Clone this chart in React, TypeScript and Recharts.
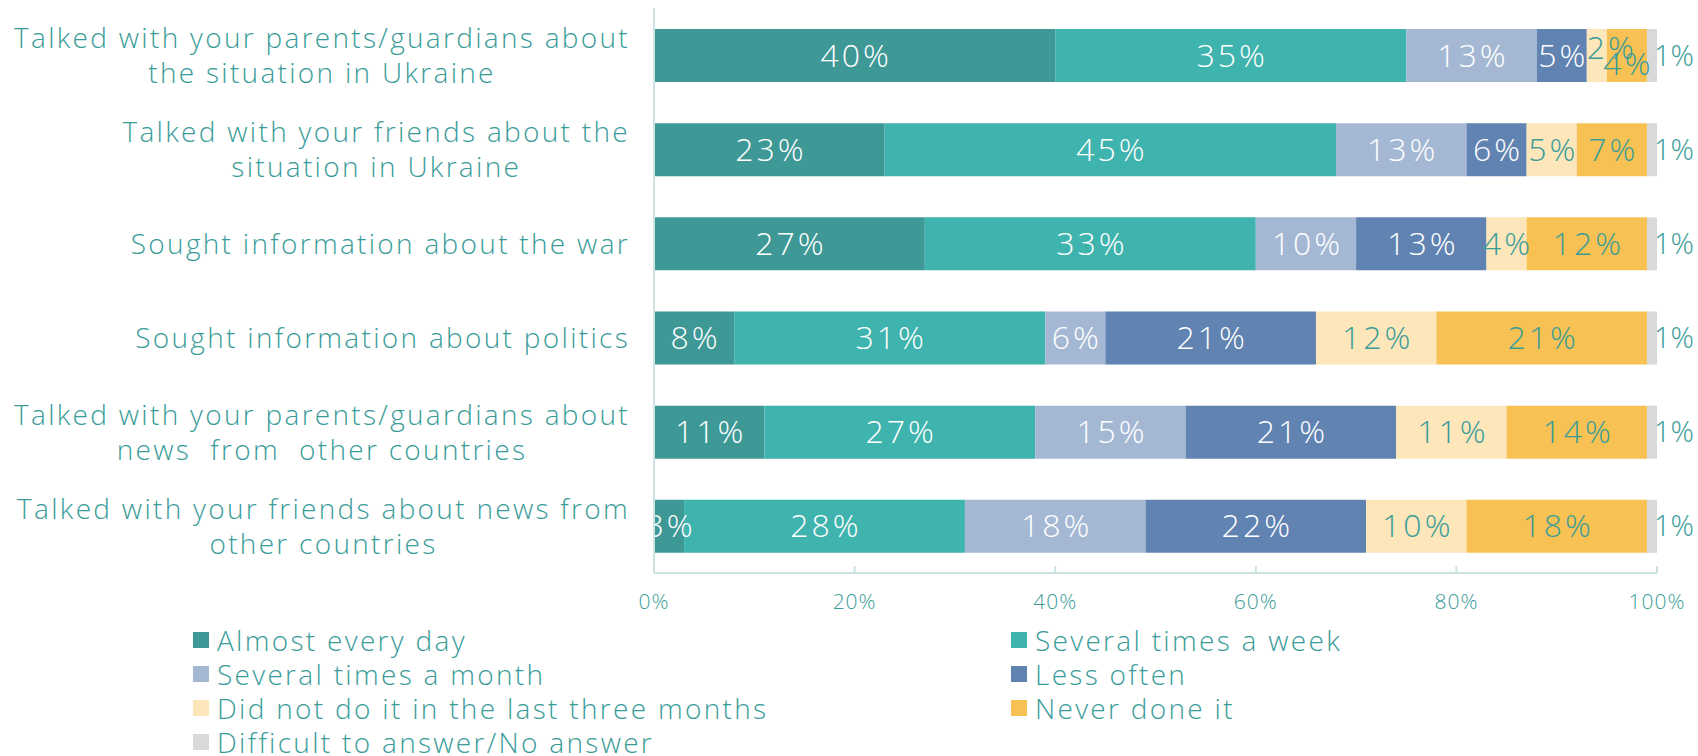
import React from 'react';
import { BarChart, Bar, XAxis, YAxis, LabelList } from 'recharts';

// Row labels, top to bottom ("\n" marks the line break)
const categories = [
  'Talked with your parents/guardians about\nthe situation in Ukraine',
  'Talked with your friends about the\nsituation in Ukraine',
  'Sought information about the war',
  'Sought information about politics',
  'Talked with your parents/guardians about\nnews  from  other countries',
  'Talked with your friends about news from\nother countries',
];

// Shares in %, one value per row
const almostEveryDay = [40, 23, 27, 8, 11, 3];
const severalWeek = [35, 45, 33, 31, 27, 28];
const severalMonth = [13, 13, 10, 6, 15, 18];
const lessOften = [5, 6, 13, 21, 21, 22];
const notLastThree = [2, 5, 4, 12, 11, 10];
const neverDone = [4, 7, 12, 21, 14, 18];
const noAnswer = [1, 1, 1, 1, 1, 1];

const xTicks = [0, 20, 40, 60, 80, 100];

const TEAL_TEXT = '#3a9c99';
const AXIS = '#cde3e2';
const FONT = "'Open Sans', sans-serif";

const series = [
  { key: 'almostEveryDay', name: 'Almost every day', values: almostEveryDay, color: '#3d9896', text: '#ffffff' },
  { key: 'severalWeek', name: 'Several times a week', values: severalWeek, color: '#3fb3ad', text: '#ffffff' },
  { key: 'severalMonth', name: 'Several times a month', values: severalMonth, color: '#a4b8d4', text: '#ffffff' },
  { key: 'lessOften', name: 'Less often', values: lessOften, color: '#6183b2', text: '#ffffff' },
  { key: 'notLastThree', name: 'Did not do it in the last three months', values: notLastThree, color: '#fde6ba', text: TEAL_TEXT },
  { key: 'neverDone', name: 'Never done it', values: neverDone, color: '#f7c253', text: TEAL_TEXT },
  { key: 'noAnswer', name: 'Difficult to answer/No answer', values: noAnswer, color: '#d9d9d9', text: TEAL_TEXT },
];

const data = categories.map((name, i) => {
  const row: Record<string, any> = { name };
  series.forEach((s) => { row[s.key] = s.values[i]; });
  return row;
});

const CategoryTick = (props: any) => {
  const { y, payload } = props;
  return (
    <foreignObject x={0} y={y - 50} width={628} height={100}>
      <div style={{ height: 100, display: 'flex', alignItems: 'center', justifyContent: 'flex-end' }}>
        <span style={{
          display: 'inline-block', textAlign: 'center', whiteSpace: 'pre',
          fontFamily: FONT, fontSize: 28, fontWeight: 300, lineHeight: '35px', color: TEAL_TEXT,
          letterSpacing: '2.3px', marginRight: -2,
        }}>
          {payload.value}
        </span>
      </div>
    </foreignObject>
  );
};

const PercentTick = (props: any) => {
  const { x, y, payload } = props;
  return (
    <g>
      <line x1={x} x2={x} y1={y - 7} y2={y} stroke={AXIS} strokeWidth={2} />
      <text x={x} y={y + 36} textAnchor="middle" fill={TEAL_TEXT} fontFamily={FONT} fontSize={21}
        fontWeight={300} letterSpacing={1}>
        {payload.value}%
      </text>
    </g>
  );
};

const makeLabel = (si: number) => (props: any) => {
  const { x, y, width, height, value, index } = props;
  const s = series[si];
  const cy = Number(y) + Number(height) / 2;
  const common = { fill: s.text, fontFamily: FONT, fontSize: 32, fontWeight: 300, letterSpacing: 3 };
  if (si === series.length - 1) {
    // the last, thin segment gets its label outside, to the right
    return (
      <text x={Number(x) + Number(width) - 3} y={cy + 10} textAnchor="start" fill={s.text}
        fontFamily={FONT} fontSize={29} fontWeight={300}>
        {value}%
      </text>
    );
  }
  // two tiny neighbouring segments: nudge their labels apart
  const crowded = (si === 4 || si === 5) && notLastThree[index] + neverDone[index] < 8;
  if (crowded && si === 4) {
    return (
      <text x={Number(x)} y={cy + 11 - 8} textAnchor="start" {...common}>
        {value}%
      </text>
    );
  }
  return (
    <text x={Number(x) + Number(width) / 2 + 1.5} y={cy + 11 + (crowded ? 8 : 0)} textAnchor="middle"
      clipPath="url(#plotClip)" {...common}>
      {value}%
    </text>
  );
};

export default function App() {
  return (
    <div style={{ position: 'absolute', left: 0, top: 0, width: 1698, height: 756, background: '#fff', overflow: 'hidden' }}>
      <BarChart width={1698} height={620} data={data} layout="vertical"
        margin={{ top: 8, right: 41, bottom: 0, left: 0 }}>
        <defs>
          <clipPath id="plotClip">
            <rect x={655} y={0} width={1043} height={620} />
          </clipPath>
        </defs>
        <XAxis type="number" domain={[0, 100]} ticks={xTicks} height={47}
          axisLine={{ stroke: AXIS, strokeWidth: 2 }} tickLine={false} tickSize={0} tickMargin={0}
          tick={<PercentTick />} interval={0} />
        <YAxis type="category" dataKey="name" width={654}
          axisLine={{ stroke: AXIS, strokeWidth: 2 }} tickLine={false}
          tick={<CategoryTick />} interval={0} />
        {series.map((s, i) => (
          <Bar key={s.key} dataKey={s.key} name={s.name} stackId="s" fill={s.color}
            barSize={53} isAnimationActive={false}>
            <LabelList dataKey={s.key} content={makeLabel(i)} />
          </Bar>
        ))}
      </BarChart>
      {series.map((s, i) => {
        const col = i % 2;
        const row = Math.floor(i / 2);
        const left = col === 0 ? 193 : 1011;
        const cy = 640 + row * 34;
        return (
          <div key={s.key} style={{ position: 'absolute', left, top: cy - 14, height: 28, display: 'flex', alignItems: 'center' }}>
            <span style={{ width: 16, height: 16, background: s.color, display: 'inline-block', marginRight: 8 }} />
            <span style={{
              fontFamily: FONT, fontSize: 28, fontWeight: 300, lineHeight: '28px', color: TEAL_TEXT,
              whiteSpace: 'nowrap', letterSpacing: '2.3px',
            }}>
              {s.name}
            </span>
          </div>
        );
      })}
    </div>
  );
}
